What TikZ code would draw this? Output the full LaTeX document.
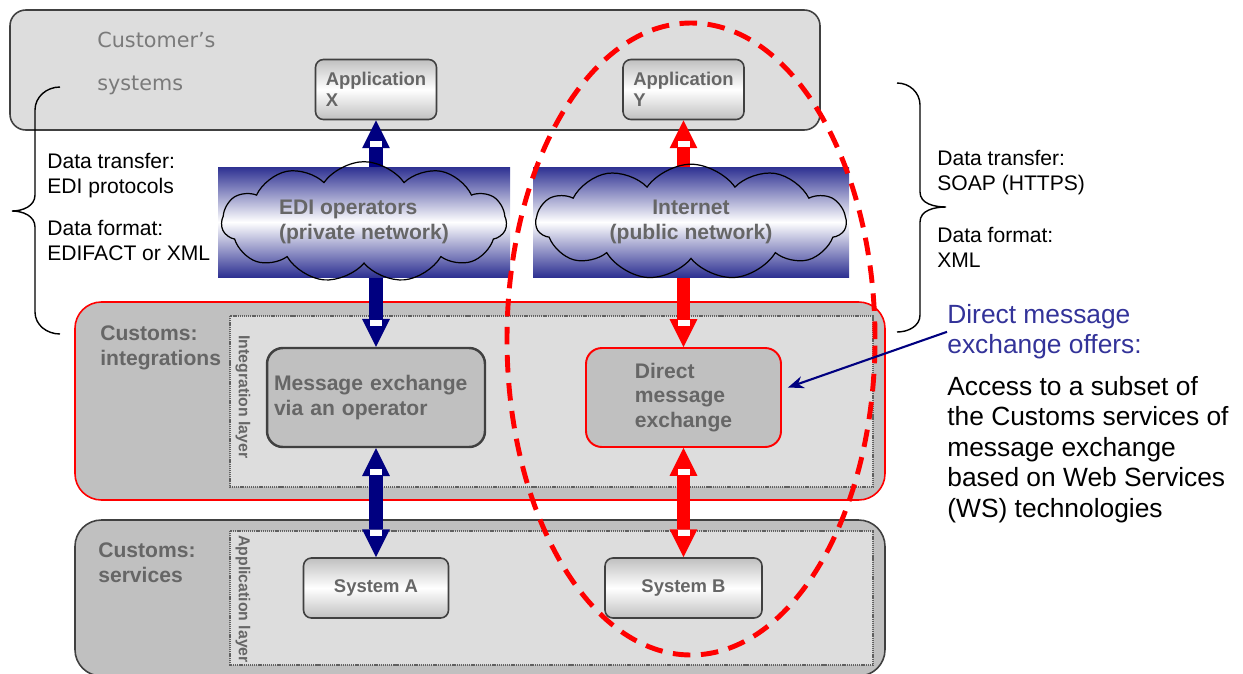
\documentclass[tikz,border=0pt]{standalone}
\usepackage{fontspec}
\setmainfont{Liberation Sans}
\newfontfamily\custfont{DejaVu Sans}
\usepackage{tikz}
\usetikzlibrary{shapes.symbols, arrows.meta, calc}

\definecolor{boxlight}{HTML}{DDDDDD}
\definecolor{boxmid}{HTML}{C0C0C0}
\definecolor{labelgray}{HTML}{666666}
\definecolor{custgray}{HTML}{7A7A7A}
\definecolor{edgegray}{HTML}{404040}
\definecolor{dotgray}{HTML}{606060}
\definecolor{navyarrow}{HTML}{000080}
\definecolor{netblue}{HTML}{2E3192}
\definecolor{offerblue}{HTML}{333399}

\newcommand{\arrnotch}[2]{\fill[white] ($(#1)+(-6,#2*21)$) rectangle ($(#1)+(6,#2*27)$);}

\begin{document}
\begin{tikzpicture}[x=0.02cm, y=0.02cm,
    layerbox/.style={fill=boxmid, line width=0.9pt, rounded corners=15pt},
    innerbox/.style={fill=boxlight, draw=dotgray, line width=1.3pt, dash pattern=on 0.7pt off 0.5pt},
    grouplabel/.style={anchor=north west, inner sep=0pt, align=left, text=labelgray, font=\fontsize{12}{14.2}\selectfont\bfseries},
    layerlabel/.style={rotate=-90, anchor=west, inner sep=0pt, text=labelgray, font=\fontsize{9}{11}\selectfont\bfseries},
    appbox/.style={draw=edgegray, line width=0.9pt, rounded corners=4.5pt, top color=boxmid, bottom color=boxmid, middle color=white, text=labelgray, align=left, minimum height=1.2cm, font=\fontsize{10.5}{11.9}\selectfont\bfseries},
    procbox/.style={fill=boxmid, rounded corners=9pt, minimum height=1.98cm, text=labelgray, align=left, font=\fontsize{12}{14}\selectfont\bfseries},
    netband/.style={top color=netblue, bottom color=netblue, middle color=white},
    netcloud/.style={cloud, cloud puffs=11, cloud puff arc=110, aspect=2.7, draw=black, line width=0.7pt, minimum height=2.12cm, inner sep=0pt, text=labelgray, font=\fontsize{12}{14.4}\selectfont\bfseries},
    fatarrow/.style={line width=7.9pt, {Triangle[length=15.9pt,width=15.9pt,line width=0pt]}-{Triangle[length=15.9pt,width=15.9pt,line width=0pt]}},
    sidetext/.style={anchor=north west, inner sep=0pt, align=left, font=\fontsize{12}{14.2}\selectfont},
    bracket/.style={line width=0.8pt},
]
\useasboundingbox (0,0) rectangle (1243,-673);

\draw[fill=boxlight, draw=edgegray, line width=0.9pt, rounded corners=9pt] (10,-10) rectangle (820,-130);
\node[anchor=north west, inner sep=0pt, align=left, text=custgray, font=\custfont\fontsize{11.8}{24.4}\selectfont] (custlabel) at (97,-32) {Customer’s\\systems};

\draw[layerbox, draw=red] (75,-302) rectangle (885,-500);
\draw[innerbox] (230,-316) rectangle (873,-487);
\node[grouplabel] (intlabel) at (100,-325) {Customs:\\integrations};
\node[layerlabel] (intlayer) at (243,-335) {Integration layer};

\draw[layerbox, draw=edgegray] (75,-520) rectangle (885,-676);
\draw[innerbox] (230,-531) rectangle (873,-665);
\node[grouplabel] (svclabel) at (98,-542) {Customs:\\services};
\node[layerlabel] (applayer) at (243,-535) {Application layer};

\node[appbox, minimum width=2.42cm] (appx) at (376,-89.5) {Application\\X};
\node[appbox, minimum width=2.42cm] (appy) at (683.5,-89.5) {Application\\Y};
\node[procbox, draw=edgegray, line width=1.4pt, text width=4.08cm, inner xsep=0.14cm] (mxop) at (376,-397.5) {Message exchange\\via an operator};
\node[procbox, draw=red, line width=1.1pt, minimum width=3.9cm] (direct) at (683.5,-397.5) {Direct\\message\\exchange};
\node[appbox, align=center, minimum width=2.9cm] (sysa) at (376,-588) {System A};
\node[appbox, align=center, minimum width=3.14cm] (sysb) at (683.5,-588) {System B};

\draw[fatarrow, navyarrow] (appx.south) -- (mxop.north);
\draw[fatarrow, navyarrow] (mxop.south) -- (sysa.north);
\draw[fatarrow, red] (appy.south) -- (direct.north);
\draw[fatarrow, red] (direct.south) -- (sysb.north);
\arrnotch{appx.south}{-1}
\arrnotch{mxop.north}{1}
\arrnotch{mxop.south}{-1}
\arrnotch{sysa.north}{1}
\arrnotch{appy.south}{-1}
\arrnotch{direct.north}{1}
\arrnotch{direct.south}{-1}
\arrnotch{sysb.north}{1}

\shade[netband] (218,-167) rectangle (510,-277);
\node[netcloud, align=left, minimum width=5.7cm] (edi) at (364,-222) {EDI operators\\(private network)};
\shade[netband] (533,-167) rectangle (849,-277);
\node[netcloud, align=center, minimum width=6.2cm] (inet) at (691,-222) {Internet\\(public network)};

\draw[red, line width=2.8pt, dash pattern=on 10pt off 6pt] (691,-339) ellipse [x radius=184, y radius=316];

\draw[bracket] (60,-87) to[out=180,in=90] (35,-110) -- (35,-195) to[out=-90,in=0] (12,-211) to[out=0,in=90] (35,-227) -- (35,-312) to[out=-90,in=180] (60,-334);
\draw[bracket] (897,-83) to[out=0,in=90] (920,-105) -- (920,-192) to[out=-90,in=180] (946,-207) to[out=180,in=90] (920,-222) -- (920,-315) to[out=-90,in=0] (897,-332);

\node[sidetext] (xferleft) at (47,-153) {Data transfer:\\EDI protocols};
\node[sidetext] (fmtleft) at (47,-220) {Data format:\\EDIFACT or XML};
\node[sidetext] (xferright) at (937,-150) {Data transfer:\\SOAP (HTTPS)};
\node[sidetext] (fmtright) at (937,-227) {Data format:\\XML};
\node[sidetext, text=offerblue, font=\fontsize{15}{17.3}\selectfont] (offers) at (947,-304) {Direct message\\exchange offers:};
\node[sidetext, font=\fontsize{15}{17.3}\selectfont] (access) at (947,-376) {Access to a subset of\\the Customs services of\\message exchange\\based on Web Services\\(WS) technologies};

\draw[navyarrow, line width=1.2pt, -{Stealth[length=9pt,width=7pt]}] (offers.west) -- ($(direct.east)+(6,10)$);
\end{tikzpicture}
\end{document}
